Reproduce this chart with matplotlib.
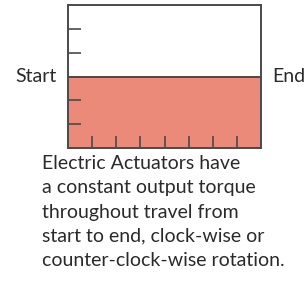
import matplotlib
matplotlib.use("Agg")
import matplotlib.pyplot as plt

# constant output torque over the whole travel
travel = [0, 1, 2, 3, 4, 5, 6, 7, 8]
torque = [3, 3, 3, 3, 3, 3, 3, 3, 3]
x_ticks = [1, 2, 3, 4, 5, 6, 7]
y_ticks = [1, 2, 3, 4, 5]
caption = ("Electric Actuators have\n"
           "a constant output torque\n"
           "throughout travel from\n"
           "start to end, clock-wise or\n"
           "counter-clock-wise rotation.")

plt.rcParams['font.family'] = ['Lato', 'DejaVu Sans']
W, H = 308, 281
fig = plt.figure(figsize=(W / 100, H / 100), dpi=100)
ax = fig.add_axes([68 / W, (H - 148) / H, 193 / W, 143 / H])

edge = '#4a4a4a'
ax.fill_between(travel, 0, torque, color='#ec8a7a', lw=0)
ax.plot(travel, torque, color=edge, lw=1.4)
ax.set_xlim(0, 8)
ax.set_ylim(0, 6)
ax.set_xticks(x_ticks)
ax.set_yticks(y_ticks)
ax.set_xticklabels([])
ax.set_yticklabels([])
ax.tick_params(axis='x', direction='in', length=8.6, width=1.2, color=edge)
ax.tick_params(axis='y', direction='in', length=9.4, width=1.2, color=edge)
for s in ax.spines.values():
    s.set_color(edge)
    s.set_linewidth(1.4)

ax.annotate('Start', xy=(0, 3), xytext=(-11, 0), textcoords='offset pixels',
            ha='right', va='center', fontsize=14, color='#2a2a2a')
ax.annotate('End', xy=(8, 3), xytext=(11, 0), textcoords='offset pixels',
            ha='left', va='center', fontsize=14, color='#2a2a2a')

fig.text(42 / W, 1 - 155 / H, caption, ha='left', va='top', fontsize=14,
         linespacing=1.52, color='#2a2a2a')

fig.savefig('out.png', dpi=100)
